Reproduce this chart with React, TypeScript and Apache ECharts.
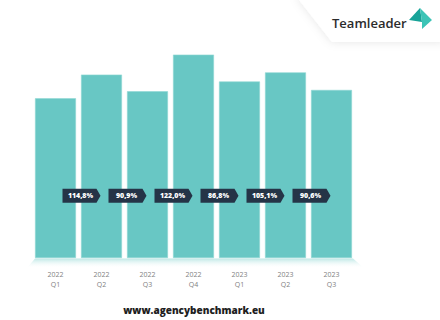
import React, { useEffect, useRef } from "react";
import * as echarts from "echarts";

const categories = ["2022\nQ1", "2022\nQ2", "2022\nQ3", "2022\nQ4", "2023\nQ1", "2023\nQ2", "2023\nQ3"];
// relative index (first quarter = 100)
const indexValues = [100, 114.8, 104.4, 127.3, 110.5, 116.2, 105.2];
// quarter-over-quarter growth labels
const growth = [114.8, 90.9, 122.0, 86.8, 105.1, 90.6];

const FONT = "'Open Sans', 'Noto Sans', sans-serif";

export default function App() {
  const ref = useRef<HTMLDivElement>(null);
  useEffect(() => {
    document.body.style.margin = "0";
    const chart = echarts.init(ref.current!, null, { renderer: "svg" });
    chart.setOption({
      animation: false,
      backgroundColor: "#ffffff",
      grid: { left: 32.5, right: 85.5, top: 0, bottom: 62 },
      xAxis: {
        type: "category",
        data: categories,
        axisLine: { show: false },
        axisTick: { show: false },
        axisLabel: { color: "#7f7f7f", fontSize: 7, lineHeight: 10, margin: 11, fontFamily: FONT },
      },
      yAxis: { type: "value", min: 0, max: 161.5, show: false, splitLine: { show: false } },
      graphic: [
        {
          type: "polygon",
          z: -1,
          shape: { points: [[296, -4], [444, -4], [444, 42], [332, 42]] },
          style: { fill: "#ffffff", shadowBlur: 10, shadowColor: "rgba(0,0,0,0.10)" },
        },
        {
          type: "text",
          style: { text: "Teamleader", x: 332, y: 23, verticalAlign: "middle", fill: "#2b2b2b", font: `600 13px ${FONT}` },
        },
        {
          type: "polygon",
          shape: { points: [[409, 20], [420, 8], [422, 22]] },
          style: { fill: "#17a398" },
        },
        {
          type: "polygon",
          shape: { points: [[420, 8], [432, 20], [422, 29], [422, 22]] },
          style: { fill: "#3cc4b6" },
        },
        {
          type: "polygon",
          shape: { points: [[35, 258.5], [353, 258.5], [364, 268], [27, 268]] },
          style: {
            fill: new echarts.graphic.LinearGradient(0, 0, 0, 1, [
              { offset: 0, color: "#bde7e5" },
              { offset: 1, color: "rgba(255,255,255,0)" },
            ]),
          },
        },
        {
          type: "text",
          style: {
            text: "www.agencybenchmark.eu",
            x: 194,
            y: 310,
            align: "center",
            verticalAlign: "middle",
            fill: "#1e1e1e",
            font: `800 10px ${FONT}`,
          },
        },
      ],
      series: [
        {
          type: "bar",
          data: indexValues,
          barCategoryGap: "11%",
          itemStyle: { color: "#68c7c4", borderColor: "#8fd7d4", borderWidth: 0.6 },
        },
        {
          type: "custom",
          data: growth.map((g, i) => [i + 1, g]),
          z: 5,
          renderItem: (params: any, api: any) => {
            const i = api.value(0);
            const g = api.value(1);
            const p0 = api.coord([i - 1, 0]);
            const p1 = api.coord([i, 0]);
            const gx = (p0[0] + p1[0]) / 2;
            const y = api.coord([i, 39])[1];
            const h = 7;
            return {
              type: "group",
              children: [
                {
                  type: "polygon",
                  shape: {
                    points: [
                      [gx - 16, y - h],
                      [gx + 18, y - h],
                      [gx + 22, y],
                      [gx + 18, y + h],
                      [gx - 16, y + h],
                    ],
                  },
                  style: { fill: "#253447" },
                },
                {
                  type: "text",
                  style: {
                    text: g.toFixed(1).replace(".", ",") + "%",
                    x: gx + 2,
                    y: y,
                    align: "center",
                    verticalAlign: "middle",
                    fill: "#ffffff",
                    font: `800 7px ${FONT}`,
                  },
                },
              ],
            };
          },
        },
      ],
    });
    return () => chart.dispose();
  }, []);
  return <div ref={ref} style={{ width: 440, height: 320 }} />;
}
